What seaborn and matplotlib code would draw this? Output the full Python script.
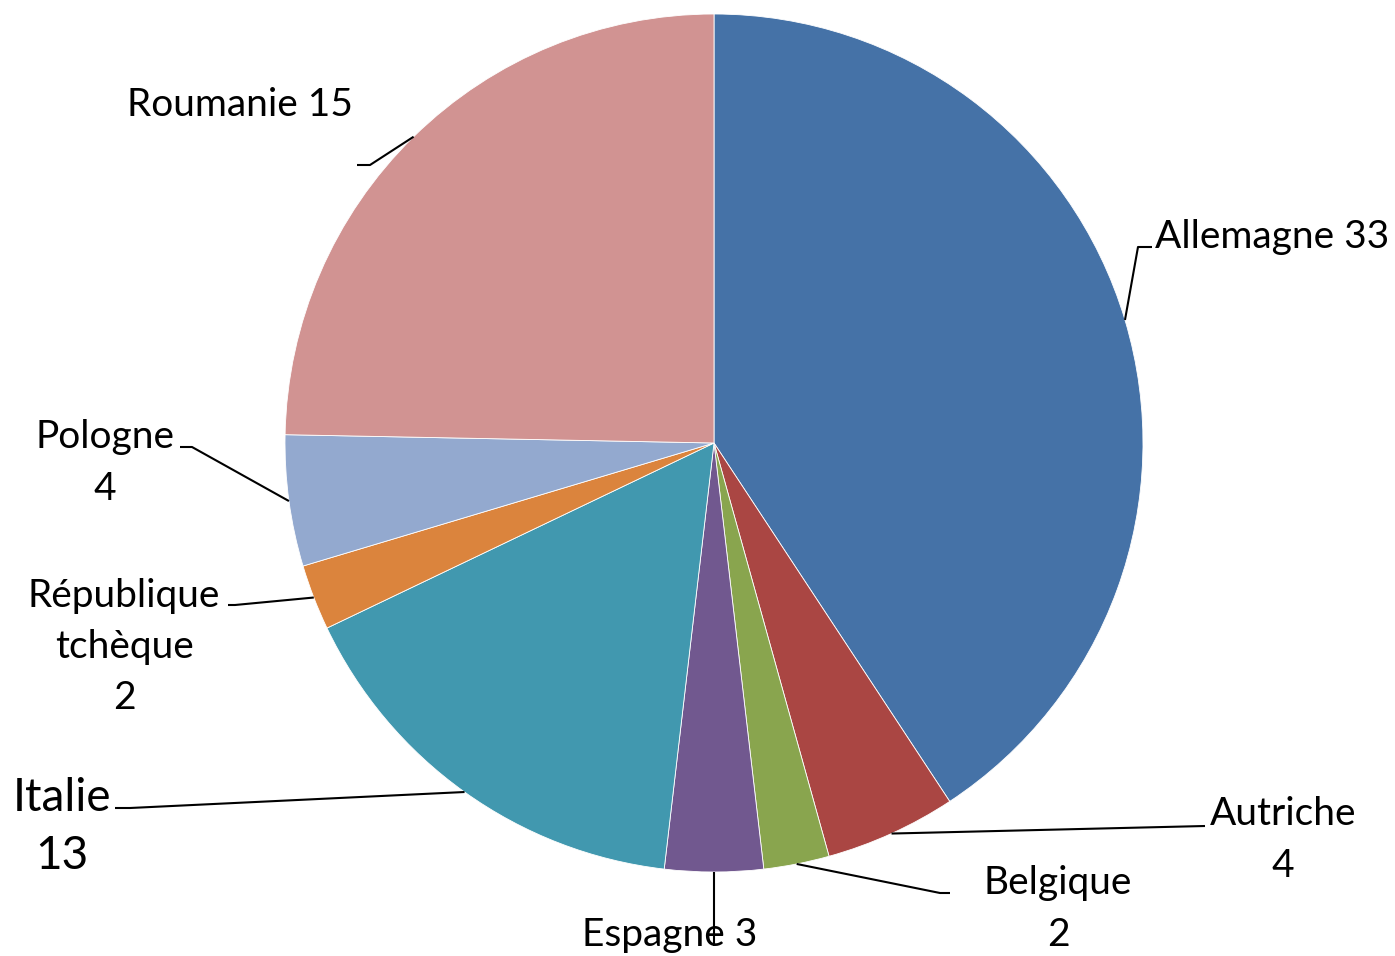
import numpy as np
import matplotlib
matplotlib.use("Agg")
import matplotlib.pyplot as plt
import seaborn as sns

# slice sizes as drawn in the picture, and the numbers printed in the labels
countries = ["Allemagne", "Autriche", "Belgique", "Espagne", "Italie",
             "République tchèque", "Pologne", "Roumanie"]
slice_sizes = [33, 4, 2, 3, 13, 2, 4, 20]
shown_values = [33, 4, 2, 3, 13, 2, 4, 15]
colors = ["#4572A7", "#AA4643", "#89A54E", "#71588F", "#4198AF",
          "#DB843D", "#93A9CF", "#D19392"]

sns.set_style("white")
plt.rcParams["font.family"] = ["Lato", "DejaVu Sans"]

W, H = 1395, 956
cx, cy, R = 714, 443, 429


def px(x, y):
    # pixel position in the picture -> data units (pie radius = 1)
    return ((x - cx) / R, (cy - y) / R)


fig = plt.figure(figsize=(W / 100, H / 100), dpi=100)
ax = fig.add_axes([0, 0, 1, 1])
wedges, _ = ax.pie(slice_sizes, colors=sns.color_palette(colors), startangle=90,
                   counterclock=False, radius=1,
                   wedgeprops=dict(linewidth=0.6, edgecolor="white"))
x0, y0 = px(0, H)
x1, y1 = px(W, 0)
ax.set_xlim(x0, x1)
ax.set_ylim(y0, y1)
ax.set_aspect("equal")
ax.axis("off")

# label layout: text centre, alignment, leader path (pixels), font size, spacing
layout = [
    ((1155, 237), "left", [(1138, 247), (1152, 247)], 28, 1.53),
    ((1283, 840), "center", [(1205, 826)], 28, 1.53),
    ((1058, 909), "center", [(940, 893), (950, 893)], 28, 1.53),
    ((670, 935), "center", [(714, 946)], 28, 1.53),
    ((62, 827), "center", [(130, 808), (115, 808)], 33, 1.48),
    ((124, 647), "center", [(235, 605), (228, 605)], 28, 1.53),
    ((105, 463), "center", [(192, 447), (180, 447)], 28, 1.53),
    ((240, 105), "center", [(370, 165), (357, 165)], 28, 1.53),
]
texts = ["Allemagne 33", "Autriche\n4", "Belgique\n2", "Espagne 3", "Italie\n13",
         "République\ntchèque\n2", "Pologne\n4", "Roumanie 15"]

for w, txt, (pos, ha, path, fs, sp) in zip(wedges, texts, layout):
    mid = np.deg2rad((w.theta1 + w.theta2) / 2)
    xs = [np.cos(mid)] + [px(*p)[0] for p in path]
    ys = [np.sin(mid)] + [px(*p)[1] for p in path]
    ax.plot(xs, ys, color="black", lw=1.5, solid_capstyle="butt")
    tx, ty = px(*pos)
    ax.text(tx, ty, txt, ha=ha, va="center", fontsize=fs, color="black",
            linespacing=sp)

fig.savefig("out.png", dpi=100, facecolor="white")
